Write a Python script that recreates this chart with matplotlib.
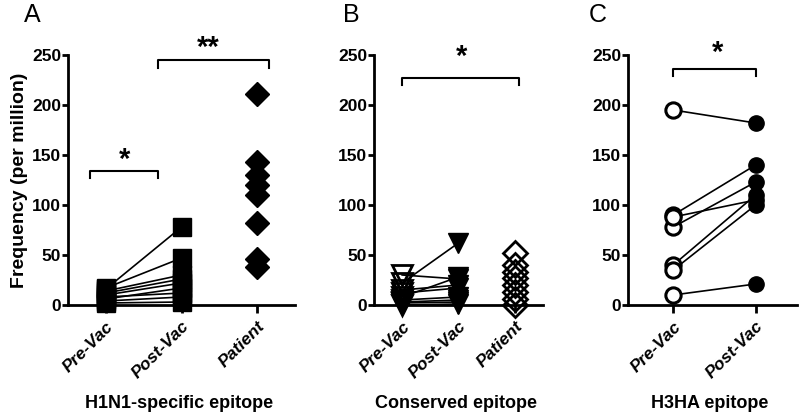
import matplotlib
matplotlib.use("Agg")
import matplotlib.pyplot as plt

plt.rcParams['font.family'] = ['Liberation Sans', 'DejaVu Sans']
plt.rcParams['font.weight'] = 'bold'

# panel A: H1N1-specific epitope
a_pre = [16, 17, 14, 12, 10, 6, 8, 4, 2]
a_post = [78, 47, 30, 26, 22, 17, 12, 8, 3]
a_patient = [211, 143, 130, 120, 110, 82, 46, 38]

# panel B: conserved epitope
b_pre = [22, 30, 12, 8, 5, 3, 2, 0, 15]
b_post = [62, 26, 17, 28, 8, 5, 3, 1, 20]
b_patient = [52, 40, 33, 27, 20, 13, 6, 0]

# panel C: H3HA epitope
c_pre = [195, 90, 78, 88, 40, 35, 10]
c_post = [182, 140, 123, 105, 110, 100, 21]

groups3 = ['Pre-Vac', 'Post-Vac', 'Patient']
groups2 = ['Pre-Vac', 'Post-Vac']
yticks = [0, 50, 100, 150, 200, 250]

fig = plt.figure(figsize=(8, 4.17), dpi=100)
axA = fig.add_axes([0.085, 0.2686, 0.284, 0.5995])
axB = fig.add_axes([0.4675, 0.2686, 0.211, 0.5995])
axC = fig.add_axes([0.785, 0.2686, 0.211, 0.5995])


def style(ax, labels, xlim):
    for s in ['top', 'right']:
        ax.spines[s].set_visible(False)
    for s in ['left', 'bottom']:
        ax.spines[s].set_linewidth(2)
    ax.set_ylim(0, 250)
    ax.set_xlim(*xlim)
    ax.set_yticks(yticks)
    ax.set_xticks(range(1, len(labels) + 1))
    ax.set_xticklabels(labels, rotation=45, ha='right', rotation_mode='anchor',
                       fontsize=12.5, fontstyle='italic', fontweight='bold')
    ax.tick_params(axis='y', length=4, width=2, labelsize=12.5, pad=1)
    ax.tick_params(axis='x', length=6, width=2, pad=4)
    for t in ax.get_yticklabels():
        t.set_fontweight('bold')


def bracket(ax, x1, x2, y, drop, star, sx, sy):
    ax.plot([x1, x1, x2, x2], [y - drop, y, y, y - drop], color='black', lw=1.5,
            clip_on=False)
    ax.text(sx, sy, star, ha='center', va='center', fontsize=21, fontweight='bold',
            clip_on=False)


# A
for p, q in zip(a_pre, a_post):
    axA.plot([1, 2], [p, q], color='black', lw=1.2, zorder=2)
axA.plot([1] * len(a_pre), a_pre, 's', color='black', ms=13, zorder=3, clip_on=False)
axA.plot([2] * len(a_post), a_post, 's', color='black', ms=13, zorder=3, clip_on=False)
axA.plot([3] * len(a_patient), a_patient, 'D', color='black', ms=12, zorder=3, clip_on=False)
style(axA, groups3, (0.5, 3.5))
bracket(axA, 0.79, 1.69, 134, 7, '*', 1.25, 145)
bracket(axA, 1.69, 3.15, 245, 8, '**', 2.35, 257)
axA.set_ylabel('Frequency (per million)', fontsize=14, fontweight='bold', labelpad=3)

# B
for p, q in zip(b_pre, b_post):
    axB.plot([1, 2], [p, q], color='black', lw=1.2, zorder=2)
axB.plot([1] * len(b_pre), b_pre, 'v', mfc='none', mec='black', mew=2, ms=14, zorder=3,
         clip_on=False)
axB.plot([2] * len(b_post), b_post, 'v', color='black', ms=14, zorder=3, clip_on=False)
axB.plot([3] * len(b_patient), b_patient, 'D', mfc='none', mec='black', mew=2, ms=12,
         zorder=3, clip_on=False)
style(axB, groups3, (0.5, 3.5))
bracket(axB, 1.0, 3.07, 227, 7, '*', 2.05, 248)

# C
for p, q in zip(c_pre, c_post):
    axC.plot([1, 2], [p, q], color='black', lw=1.2, zorder=2)
axC.plot([1] * len(c_pre), c_pre, 'o', mfc='white', mec='black', mew=2.2, ms=11, zorder=3,
         clip_on=False)
axC.plot([2] * len(c_post), c_post, 'o', color='black', ms=11, zorder=3, clip_on=False)
style(axC, groups2, (0.45, 2.5))
bracket(axC, 1.0, 2.0, 236, 7, '*', 1.54, 252)

# panel letters and x titles
fig.text(32 / 800, 1 - 15 / 417, 'A', fontsize=18, fontweight='normal', ha='center', va='center')
fig.text(351 / 800, 1 - 15 / 417, 'B', fontsize=18, fontweight='normal', ha='center', va='center')
fig.text(598 / 800, 1 - 15 / 417, 'C', fontsize=18, fontweight='normal', ha='center', va='center')
fig.text(179 / 800, 1 - 403 / 417, 'H1N1-specific epitope', fontsize=13, ha='center', va='center')
fig.text(456 / 800, 1 - 403 / 417, 'Conserved epitope', fontsize=13, ha='center', va='center')
fig.text(710 / 800, 1 - 403 / 417, 'H3HA epitope', fontsize=13, ha='center', va='center')

fig.savefig('out.png', dpi=100)
